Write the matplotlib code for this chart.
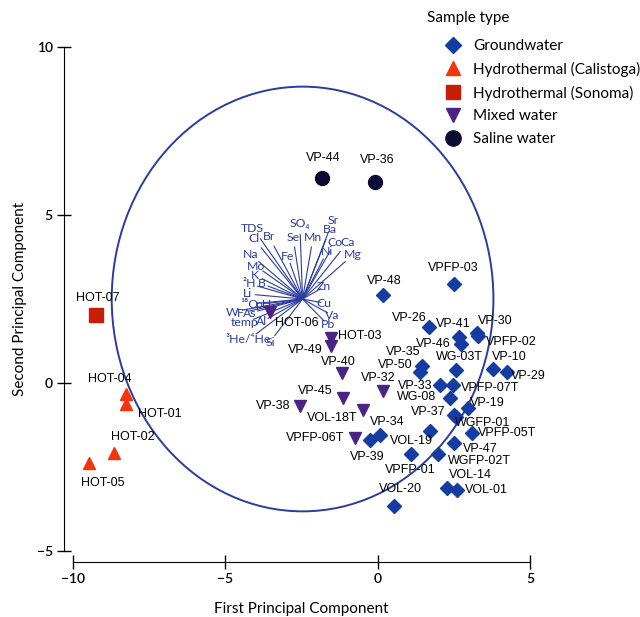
import matplotlib
matplotlib.use("Agg")
import matplotlib.pyplot as plt
from matplotlib.patches import Ellipse
from matplotlib.lines import Line2D

# ---- sample scores (PC1, PC2) -------------------------------------------
gw_names = ["VP-48", "VPFP-03", "VP-26", "VP-41", "VP-46", "VP-30", "VPFP-02",
            "WG-03T", "VP-10", "VP-29", "VP-35", "VP-50", "VP-33", "VPFP-07T",
            "WG-08", "VP-19", "VP-37", "WGFP-01", "VPFP-05T", "VP-47",
            "WGFP-02T", "VOL-19", "VPFP-01", "VP-34", "VP-39", "VOL-14",
            "VOL-01", "VOL-20"]
gw_pc1 = [0.18, 2.51, 1.69, 2.67, 2.74, 3.26, 3.29, 2.57, 3.78, 4.24, 1.46,
          1.39, 2.05, 2.47, 2.37, 2.96, 2.51, 2.57, 3.10, 2.51, 1.98, 1.72,
          1.10, 0.08, -0.25, 2.28, 2.60, 0.54]
gw_pc2 = [2.62, 2.95, 1.67, 1.37, 1.16, 1.49, 1.40, 0.39, 0.42, 0.33, 0.51,
          0.33, -0.06, -0.06, -0.45, -0.74, -0.95, -1.01, -1.49, -1.79, -2.11,
          -1.43, -2.11, -1.55, -1.70, -3.13, -3.18, -3.66]

cal_names = ["HOT-04", "HOT-01", "HOT-02", "HOT-05"]
cal_pc1 = [-8.25, -8.25, -8.65, -9.47]
cal_pc2 = [-0.33, -0.63, -2.08, -2.38]

son_names = ["HOT-07"]
son_pc1 = [-9.24]
son_pc2 = [2.02]

mix_names = ["HOT-06", "HOT-03", "VP-49", "VP-40", "VP-32", "VP-45", "VP-38",
             "VOL-18T", "VPFP-06T"]
mix_pc1 = [-3.53, -1.53, -1.53, -1.17, 0.18, -1.14, -2.55, -0.48, -0.74]
mix_pc2 = [2.11, 1.34, 1.10, 0.30, -0.24, -0.45, -0.68, -0.80, -1.64]

sal_names = ["VP-44", "VP-36"]
sal_pc1 = [-1.82, -0.09]
sal_pc2 = [6.10, 5.98]

# ---- variable loadings (relative to the biplot origin) --------------------
var_names = ["TDS", "Br", "Cl", "Na", "Mo", "K", "²H", "B", "Li", "¹⁸O", "pH",
             "W", "F", "As", "temp", "Al", "³He/⁴He", "Si", "Fe", "Se", "SO₄",
             "Mn", "Sr", "Ba", "Co", "Ca", "Ni", "Mg", "Zn", "Cu", "Va", "Pb"]
var_pc1 = [-1.63, -1.10, -1.59, -1.69, -1.53, -1.56, -1.73, -1.33, -1.82, -1.73,
           -1.30, -2.32, -2.05, -1.73, -1.89, -1.33, -1.79, -1.07, -0.48, -0.31,
           -0.09, 0.34, 1.00, 0.90, 1.06, 1.46, 0.80, 1.65, 0.70, 0.70, 0.96,
           0.83]
var_pc2 = [2.11, 1.85, 1.79, 1.31, 0.98, 0.71, 0.45, 0.45, 0.15, -0.15, -0.15,
           -0.39, -0.42, -0.42, -0.71, -0.68, -1.22, -1.28, 1.25, 1.82, 2.26,
           1.82, 2.35, 2.08, 1.67, 1.67, 1.40, 1.31, 0.36, -0.12, -0.48, -0.77]
origin = (-2.46, 2.50)
circle_radius = (6.26, 6.32)

x_ticks = [-10, -5, 0, 5]
y_ticks = [-5, 0, 5, 10]

# label offsets from each marker, in pixels (right, up)
label_offsets = {
    "VP-48": (1, 14), "VPFP-03": (-1, 16), "VP-26": (-20, 9), "VP-41": (-6, 13),
    "VP-46": (-28, 0), "VP-30": (18, 12), "VPFP-02": (33, -6),
    "WG-03T": (3, 13), "VP-10": (17, 12), "VP-29": (21, -4),
    "VP-35": (-19, 14), "VP-50": (-25, 7), "VP-33": (-25, -1),
    "VPFP-07T": (37, -3), "WG-08": (-33, 1), "VP-19": (20, 5),
    "VP-37": (-26, 3), "WGFP-01": (27, -6), "VPFP-05T": (35, 0),
    "VP-47": (26, -6), "WGFP-02T": (42, -7), "VOL-19": (-19, -10),
    "VPFP-01": (-1, -16), "VP-34": (7, 13), "VP-39": (-3, -17),
    "VOL-14": (23, 13), "VOL-01": (30, 0), "VOL-20": (6, 17),
    "HOT-06": (27, -11), "HOT-03": (29, 2), "VP-49": (-26, -4),
    "VP-40": (-4, 11), "VP-32": (-5, 13), "VP-45": (-28, 7),
    "VP-38": (-27, 0), "VOL-18T": (-31, -8), "VPFP-06T": (-40, 0),
    "VP-44": (1, 20), "VP-36": (2, 22),
    "HOT-04": (-16, 15), "HOT-01": (34, -10), "HOT-02": (19, 16),
    "HOT-05": (14, -20), "HOT-07": (2, 17),
}

C_GW = "#143ca2"
C_CAL = "#f5330c"
C_SON = "#c81e06"
C_MIX = "#4a2483"
C_SAL = "#0b0b33"
C_VEC = "#2b3c9f"

UI_FONT = ["Lato", "DejaVu Sans"]
LBL_FONT = ["Liberation Sans", "DejaVu Sans"]

fig = plt.figure(figsize=(6.4, 6.17), dpi=100)
W, H = 640, 617
ax = fig.add_axes([72.7 / W, 1 - 551 / H, (530 - 72.7) / W, (551 - 47) / H])
ax.set_xlim(-10, 5)
ax.set_ylim(-5, 10)

# correlation circle and loading vectors
ax.add_patch(Ellipse(origin, 2 * circle_radius[0], 2 * circle_radius[1],
                     fill=False, edgecolor=C_VEC, lw=1.4, zorder=1))
for name, vx, vy in zip(var_names, var_pc1, var_pc2):
    ax.plot([origin[0], origin[0] + 0.85 * vx], [origin[1], origin[1] + 0.85 * vy],
            color=C_VEC, lw=0.8, zorder=2)
    ax.text(origin[0] + vx, origin[1] + vy, name, color=C_VEC, fontsize=8.8,
            family=UI_FONT, ha="center", va="center", zorder=3)

groups = [
    ("Groundwater", gw_names, gw_pc1, gw_pc2, "D", 7.2, C_GW),
    ("Hydrothermal (Calistoga)", cal_names, cal_pc1, cal_pc2, "^", 9, C_CAL),
    ("Hydrothermal (Sonoma)", son_names, son_pc1, son_pc2, "s", 9.5, C_SON),
    ("Mixed water", mix_names, mix_pc1, mix_pc2, "v", 9, C_MIX),
    ("Saline water", sal_names, sal_pc1, sal_pc2, "o", 10, C_SAL),
]

handles = []
for label, names, xs, ys, mk, ms, col in groups:
    ax.plot(xs, ys, linestyle="none", marker=mk, ms=ms, color=col,
            markeredgecolor=col, zorder=4, clip_on=False)
    for n, x, y in zip(names, xs, ys):
        dx, dy = label_offsets[n]
        ax.annotate(n, (x, y), xytext=(dx * 0.72, dy * 0.72),
                    textcoords="offset points", ha="center", va="center",
                    fontsize=9, family=LBL_FONT, color="black", zorder=5,
                    annotation_clip=False)
    handles.append(Line2D([], [], linestyle="none", marker=mk, ms=ms,
                          color=col, markeredgecolor=col, label=label))

# axes styling
for side in ("top", "right"):
    ax.spines[side].set_visible(False)
ax.spines["left"].set_position(("outward", 6.3))
ax.spines["bottom"].set_position(("outward", 7.9))
ax.set_xticks(x_ticks)
ax.set_yticks(y_ticks)
ax.tick_params(direction="inout", length=10, width=1, labelsize=10, pad=3)
for t in ax.get_xticklabels() + ax.get_yticklabels():
    t.set_family(UI_FONT)
    t.set_fontweight("semibold")
ax.set_xlabel("First Principal Component", family=UI_FONT, fontsize=11, labelpad=12)
ax.set_ylabel("Second Principal Component", family=UI_FONT, fontsize=11, labelpad=7)

# legend with its heading set slightly apart
fig.text(427 / W, 1 - 18 / H, "Sample type", family=UI_FONT, fontsize=11,
         ha="left", va="center")
leg = fig.legend(handles=handles, loc="upper left",
                 bbox_to_anchor=(427 / W, 1 - 39 / H), frameon=False,
                 borderpad=0, borderaxespad=0, handlelength=3.4,
                 handletextpad=-0.39, labelspacing=0.57, markerscale=1.1,
                 prop={"family": UI_FONT, "size": 11})

fig.savefig("out.png", dpi=100)
